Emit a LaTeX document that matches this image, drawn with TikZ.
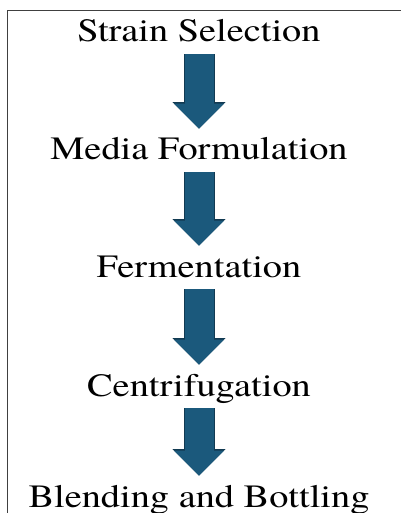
\documentclass[tikz,border=0pt]{standalone}
\usepackage{fontspec}
\setmainfont{texgyretermes-regular.otf}
\usetikzlibrary{arrows.meta}
\definecolor{flowblue}{RGB}{27,89,124}
\definecolor{flowedge}{RGB}{18,58,82}
\newcommand{\widetext}[1]{\scalebox{1.18}[1]{#1}}

\begin{document}
\begin{tikzpicture}[x=1pt,y=-1pt,thick,
	stage/.style={
		inner sep=0pt, % text boxes only
		text height=23pt,
		text depth=7pt,
		anchor=base,
		font=\fontsize{32.5}{36}\selectfont,
	},
	flow/.style={
		draw=flowblue, line width=29pt,
		shorten <=5pt, shorten >=8pt,
		-{Triangle[width=50pt,length=25pt,line width=1pt]},
		preaction={draw=flowedge, line width=31pt,
			-{Triangle[width=53pt,length=26.5pt,line width=1pt]}},
	},
]
	\useasboundingbox (0,0) rectangle (401,513);
	% frame, open at the right and bottom
	\draw[line width=1pt, black!75] (7.5,513) -- (7.5,11) -- (401,11);
	\foreach \y/\txt [count=\i] in {42/Strain Selection, 160/Media Formulation,
		277/Fermentation, 396/Centrifugation, 507/Blending and Bottling}{
		\node[stage] (s\i) at (199,\y) {\widetext{\txt}};
	}
	\foreach \i [evaluate={\j=int(\i+1)}] in {1,...,4}{
		\draw[flow] (s\i.south) -- (s\j.north);
	}
\end{tikzpicture}
\end{document}
